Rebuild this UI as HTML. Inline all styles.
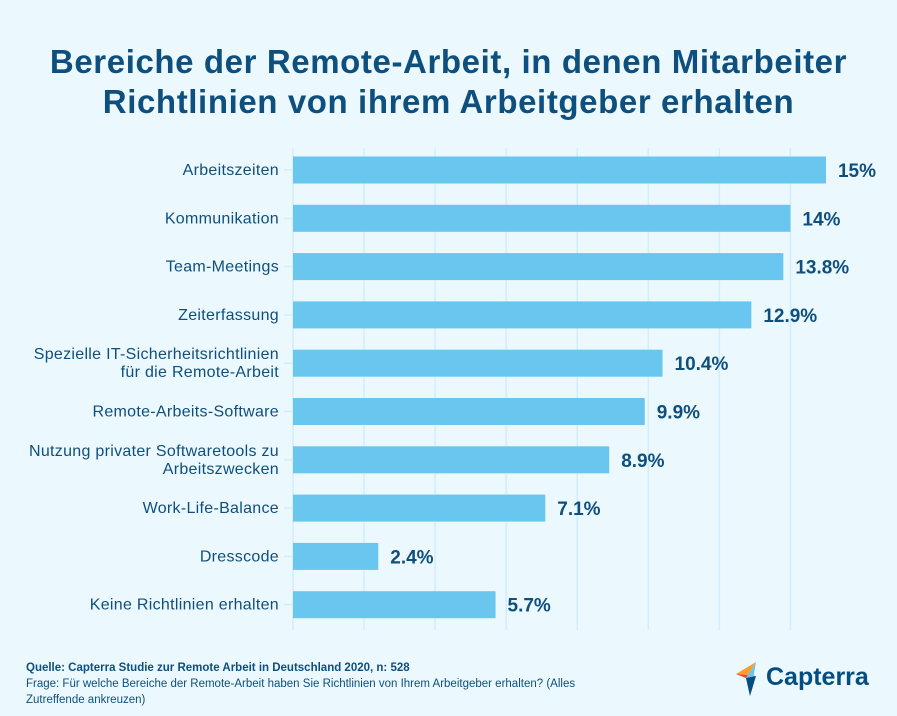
<!DOCTYPE html>
<html><head><meta charset="utf-8"><style>
body{margin:0;width:897px;height:716px;background:#ebf8fe;font-family:"Liberation Sans",sans-serif;overflow:hidden;position:relative}
h1{position:absolute;top:42px;left:0;width:897px;margin:0;text-align:center;font-size:33px;letter-spacing:0.6px;line-height:40px;color:#0e4f7d;font-weight:bold;white-space:nowrap}
.src{position:absolute;left:26px;top:660px;font-size:11.5px;color:#0e4f7d;line-height:16px;width:585px}
</style></head><body>
<h1>Bereiche der Remote-Arbeit, in denen Mitarbeiter<br>Richtlinien von ihrem Arbeitgeber erhalten</h1>
<svg id="chart" width="897" height="716" style="position:absolute;left:0;top:0"></svg>
<div class="src"><b>Quelle: Capterra Studie zur Remote Arbeit in Deutschland 2020, n: 528</b><br>Frage: Für welche Bereiche der Remote-Arbeit haben Sie Richtlinien von Ihrem Arbeitgeber erhalten? (Alles Zutreffende ankreuzen)</div>
<div style="position:absolute;left:736px;top:662px;height:34px">
<svg width="30" height="34" style="position:absolute;left:0;top:0"><polygon points="0,12 20,0 10,16" fill="#ff9d28"/><polygon points="0,12 10,16 20,14" fill="#e8453c"/><polygon points="20,0 10,16 14,34" fill="#68c5ed"/><polygon points="10,16 20,14 14,34" fill="#044d80"/></svg>
<span style="position:absolute;left:30px;top:1px;font-size:25px;font-weight:bold;color:#044d80">Capterra</span></div>
<script>
const categories=["Arbeitszeiten","Kommunikation","Team-Meetings","Zeiterfassung","Spezielle IT-Sicherheitsrichtlinien|für die Remote-Arbeit","Remote-Arbeits-Software","Nutzung privater Softwaretools zu|Arbeitszwecken","Work-Life-Balance","Dresscode","Keine Richtlinien erhalten"];
const values=[15,14,13.8,12.9,10.4,9.9,8.9,7.1,2.4,5.7];
const valueLabels=["15%","14%","13.8%","12.9%","10.4%","9.9%","8.9%","7.1%","2.4%","5.7%"];
const gridTicks=[0,2,4,6,8,10,12,14];
const svg=document.getElementById('chart');const NS="http://www.w3.org/2000/svg";
const x=v=>293+v*35.53;
const y=i=>170+i*48.3;
function mk(t,a){const e=document.createElementNS(NS,t);for(const k in a)e.setAttribute(k,a[k]);svg.appendChild(e);return e;}
gridTicks.forEach(t=>{const l=mk('line',{x1:x(t),x2:x(t),y1:148,y2:630,stroke:'#d3eef9','stroke-width':1.5});

});
categories.forEach((c,i)=>{
const tk=mk('line',{x1:284,x2:293,y1:y(i),y2:y(i),stroke:'#d3eef9','stroke-width':1.5});


const r=mk('rect',{x:x(0),y:y(i)-13.5,width:x(values[i])-x(0),height:27,fill:'#69c6ee'});


const lab=mk('text',{x:x(values[i])+12,y:y(i)+7,'font-size':19,'font-weight':'bold',fill:'#0e4f7d'});lab.textContent=valueLabels[i];


const parts=c.split('|');
const t=mk('text',{x:279,y:y(i)+5-(parts.length-1)*9,'font-size':16,'letter-spacing':0.3,fill:'#0e4f7d','text-anchor':'end'});


parts.forEach((p,j)=>{const s=document.createElementNS(NS,'tspan');s.setAttribute('x',279);if(j)s.setAttribute('dy',18);s.textContent=p;t.appendChild(s);});
});
</script>
</body></html>
